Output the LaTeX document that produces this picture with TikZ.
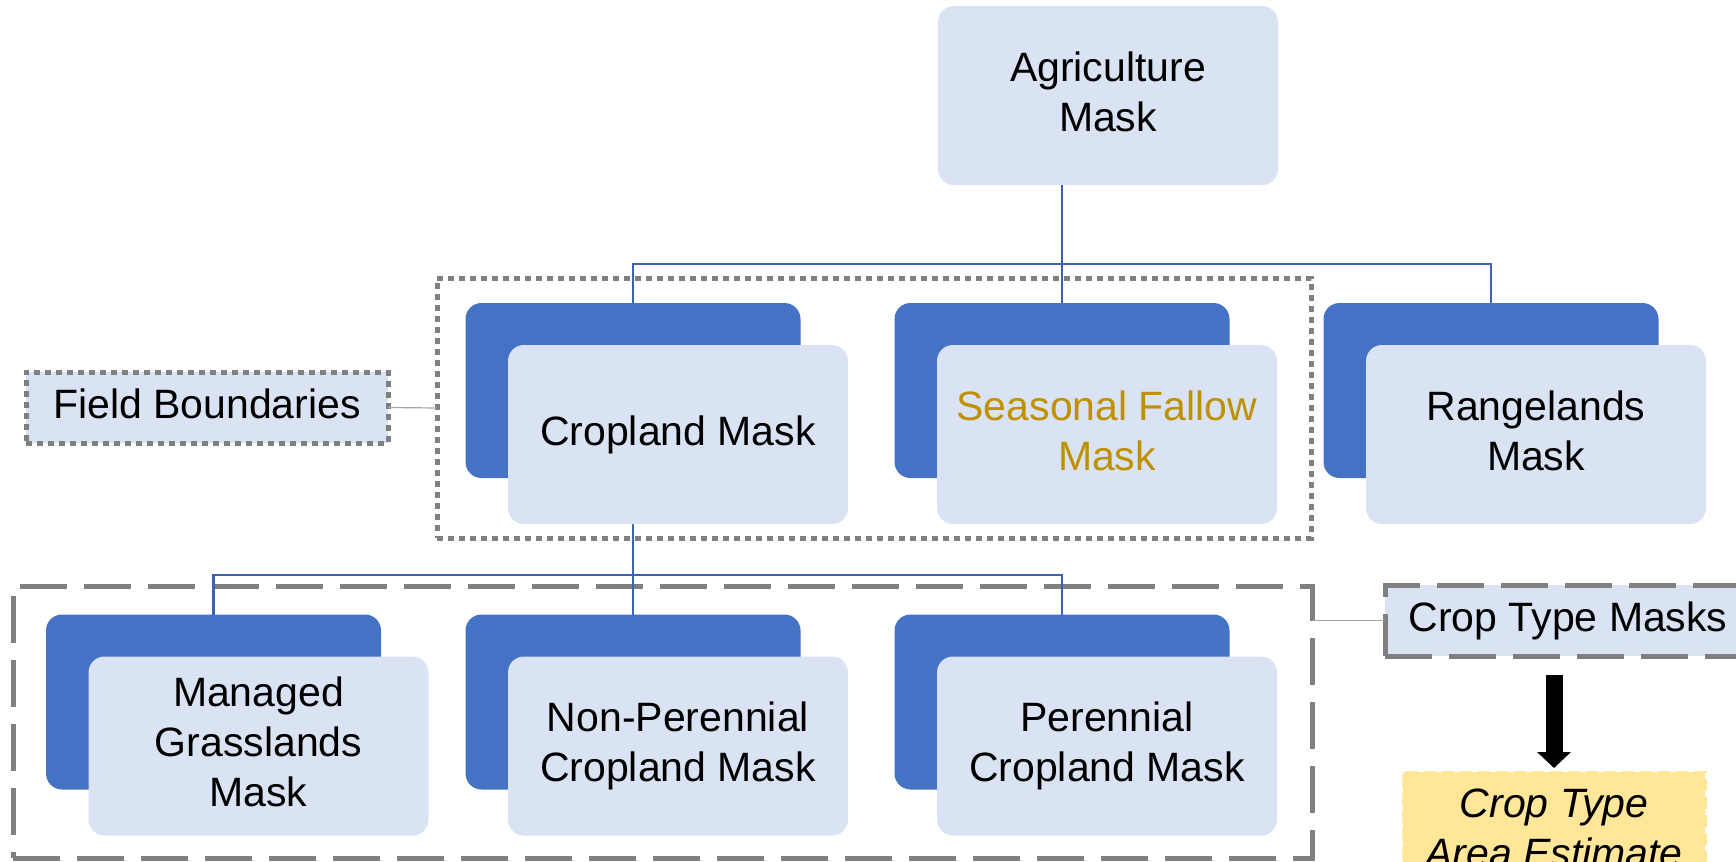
\documentclass[tikz,border=0pt]{standalone}
\usepackage{fontspec}
\setmainfont{Liberation Sans}
\usetikzlibrary{arrows.meta}
\definecolor{backblue}{HTML}{4472C4}
\definecolor{frontblue}{HTML}{DAE3F3}
\definecolor{connblue}{HTML}{3C63B0}
\definecolor{grayline}{HTML}{808080}
\definecolor{thingray}{HTML}{A6A6A6}
\definecolor{goldtext}{HTML}{BF9000}
\definecolor{estyellow}{HTML}{FFE699}
\newcommand\mainfs{\fontsize{20.5pt}{25pt}\selectfont}
\tikzset{
  backbox/.style={fill=backblue, rounded corners=8pt, minimum width=167.5pt, minimum height=87.5pt, inner sep=0pt, outer sep=0pt},
  frontbox/.style={fill=frontblue, rounded corners=8pt, minimum width=170pt, minimum height=89.5pt, inner sep=0pt, outer sep=0pt, align=center, font=\mainfs, text depth=4.3pt},
  conn/.style={draw=connblue, line width=1.3pt},
  dotline/.style={draw=grayline, line width=2.5pt, dash pattern=on 3pt off 2.5pt},
  dashline/.style={draw=grayline, line width=2.5pt, dash pattern=on 23.5pt off 8.5pt},
  groupbox/.style={inner sep=0pt, outer sep=0pt},
  labelbox/.style={fill=frontblue, inner sep=0pt, outer sep=0pt, minimum height=35.5pt, font=\mainfs, text depth=4.3pt},
  estbox/.style={fill=estyellow, draw=estyellow, line width=1.5pt, dash pattern=on 6pt off 3pt, minimum width=151pt, inner xsep=0pt, inner ysep=8.5pt, outer sep=0pt, align=center, font=\mainfs\itshape, text depth=0pt},
  bigarrow/.style={line width=8.5pt, -{Triangle[width=16.5pt,length=8pt]}},
  sidelink/.style={draw=thingray, line width=0.6pt}
}
\begin{document}
\begin{tikzpicture}[x=0.5pt,y=-0.5pt]
\useasboundingbox (0,0) rectangle (1736,862);
% groups
\node[groupbox, dotline, minimum width=437pt, minimum height=130pt] (fbg) at (874,408) {};
\node[groupbox, dashline, minimum width=649.5pt, minimum height=136pt] (ctg) at (662.5,722) {};
% junction coordinates
\coordinate (bar1) at (1062,264);
\coordinate (bar2) at (633,575);
% top
\node[frontbox] (agri) at (1108,95.5) {Agriculture\\Mask};
% row 2
\node[backbox] (bcrop) at (633,390.5) {};
\node[backbox] (bfal) at (1062,390.5) {};
\node[backbox] (bran) at (1491,390.5) {};
% row 3
\node[backbox] (bman) at (213.5,702) {};
\node[backbox] (bnon) at (633,702) {};
\node[backbox] (bper) at (1062,702) {};
% connectors
\draw[conn] (agri.south -| bfal.north) -- (bfal.north);
\draw[conn] (bcrop.north) |- (bar1) -| (bran.north);
\draw[conn] (bcrop.south) -- (bnon.north);
\draw[conn] (bman.north) |- (bar2) -| (bper.north);
% front boxes
\node[frontbox] (fcrop) at (678,434.5) {Cropland Mask};
\node[frontbox, text=goldtext] (ffal) at (1107,434.5) {Seasonal Fallow\\Mask};
\node[frontbox] (fran) at (1536,434.5) {Rangelands\\Mask};
\node[frontbox] (fman) at (258.5,746) {Managed\\Grasslands\\Mask};
\node[frontbox] (fnon) at (678,746) {Non-Perennial\\Cropland Mask};
\node[frontbox] (fper) at (1107,746) {Perennial\\Cropland Mask};
% side labels
\node[labelbox, dotline, minimum width=181pt] (fb) at (207,407.5) {Field Boundaries};
\node[labelbox, dashline, minimum width=183pt] (ctm) at (1568,620.5) {Crop Type Masks};
\draw[sidelink] (fb.east) -- (fbg.west);
\draw[sidelink] (ctm.west) -- (ctm.west -| ctg.east);
% estimate
\node[estbox, anchor=north] (est) at (1554,772) {Crop Type\\Area Estimate};
\draw[bigarrow, shorten <=9.5pt, shorten >=2pt] (est.north |- ctm.south) -- (est.north);
\end{tikzpicture}
\end{document}
